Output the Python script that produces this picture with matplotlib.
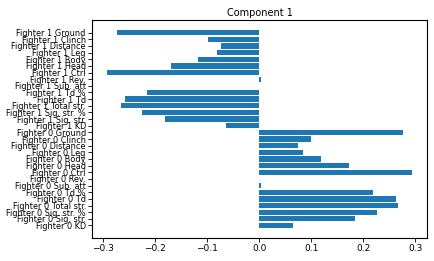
import matplotlib
matplotlib.use("Agg")
import matplotlib.pyplot as plt

features = ["KD", "Sig. str.", "Sig. str. %", "Total str.", "Td", "Td %",
            "Sub. att", "Rev.", "Ctrl", "Head", "Body", "Leg",
            "Distance", "Clinch", "Ground"]
labels = [f"Fighter 0 {f}" for f in features] + [f"Fighter 1 {f}" for f in features]

fighter0 = [0.065, 0.184, 0.226, 0.267, 0.262, 0.219, 0.003, -0.001,
            0.293, 0.172, 0.118, 0.084, 0.074, 0.099, 0.276]
fighter1 = [-0.063, -0.182, -0.226, -0.265, -0.257, -0.216, -0.001, 0.003,
            -0.292, -0.170, -0.117, -0.082, -0.073, -0.098, -0.274]
values = fighter0 + fighter1

fig = plt.figure(figsize=(4.34, 2.61), dpi=100)
ax = fig.add_axes([0.212, 0.088, 0.772, 0.835])
ax.barh(range(len(values)), values, color="#1f77b4")
ax.set_yticks(range(len(labels)))
ax.set_yticklabels(labels, fontsize=5.9)
ax.tick_params(axis="x", labelsize=6.5)
ax.tick_params(axis="both", length=3, width=0.6, pad=1.5)
ax.set_title("Component 1", fontsize=7, pad=3)
for s in ax.spines.values():
    s.set_linewidth(0.8)

fig.savefig("out.png", dpi=100)
